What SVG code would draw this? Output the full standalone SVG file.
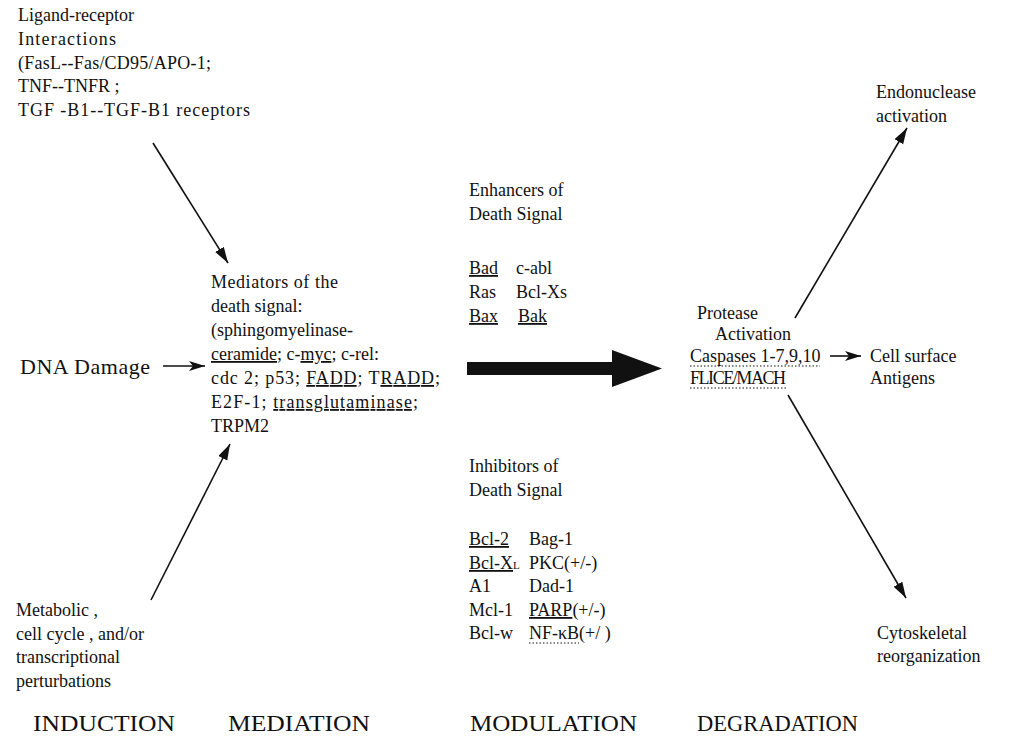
<svg xmlns="http://www.w3.org/2000/svg" width="1024" height="742" viewBox="0 0 1024 742">
  <defs>
    <style>
      text { font-family: "Liberation Serif", "Times New Roman", serif; font-size: 18px; fill: #111; }
      .big { font-size: 22px; }
      .phase { font-size: 24px; }
      .u { text-decoration: underline; }
      .conn { stroke: #111; stroke-width: 1.6; fill: none; }
      .dot { stroke: #111; stroke-width: 1; stroke-dasharray: 1.5 2; }
    </style>
    <marker id="head" markerUnits="userSpaceOnUse" markerWidth="18" markerHeight="12" refX="16" refY="5" orient="auto">
      <path d="M0,0 L16,5 L0,10 z" fill="#111"/>
    </marker>
    <marker id="headShort" markerUnits="userSpaceOnUse" markerWidth="18" markerHeight="12" refX="16" refY="5" orient="auto">
      <path d="M0,0 L16,5 L0,10 L4,5 z" fill="#111"/>
    </marker>
  </defs>
  <rect width="1024" height="742" fill="#fff"/>

  <!-- connectors -->
  <g id="connectors">
    <line class="conn" x1="153" y1="143" x2="228" y2="263" marker-end="url(#head)"/>
    <line class="conn" x1="163" y1="366" x2="205" y2="366" stroke-width="2.2" marker-end="url(#headShort)"/>
    <line class="conn" x1="151" y1="600" x2="230" y2="444" marker-end="url(#head)"/>
    <polygon points="467,362 612,362 612,350 662,368.5 612,387 612,375 467,375" fill="#111"/>
    <line class="conn" x1="795" y1="318" x2="907" y2="128" marker-end="url(#head)"/>
    <line class="conn" x1="830" y1="356" x2="861" y2="356" stroke-width="2.2" marker-end="url(#headShort)"/>
    <line class="conn" x1="788" y1="395" x2="906" y2="598" marker-end="url(#head)"/>
  </g>

  <!-- induction sources -->
  <g id="ligand">
    <text x="18" y="21">Ligand-receptor</text>
    <text x="18" y="45" textLength="98">Interactions</text>
    <text x="18" y="69" textLength="193">(FasL--Fas/CD95/APO-1;</text>
    <text x="18" y="92">TNF--TNFR ;</text>
    <text x="18" y="116" textLength="232">TGF -B1--TGF-B1 receptors</text>
  </g>
  <g id="dna">
    <text class="big" x="20" y="374" textLength="130">DNA Damage</text>
  </g>
  <g id="metabolic">
    <text x="16" y="616">Metabolic ,</text>
    <text x="16" y="640">cell cycle , and/or</text>
    <text x="16" y="663">transcriptional</text>
    <text x="16" y="687">perturbations</text>
  </g>

  <!-- mediation -->
  <g id="mediators">
    <text x="211" y="288" textLength="127">Mediators of the</text>
    <text x="211" y="312">death signal:</text>
    <text x="211" y="336">(sphingomyelinase-</text>
    <text x="211" y="360"><tspan class="u">ceramide</tspan>; c-<tspan class="u">myc</tspan>; c-rel:</text>
    <text x="211" y="384" textLength="229">cdc 2; p53; <tspan class="u">FADD</tspan>; T<tspan class="u">RADD</tspan>;</text>
    <text x="211" y="408" textLength="207">E2F-1; <tspan class="u">transglutaminase</tspan>;</text>
    <text x="211" y="432">TRPM2</text>
  </g>

  <!-- modulation -->
  <g id="enhancers">
    <text x="469" y="196">Enhancers of</text>
    <text x="469" y="220">Death Signal</text>
    <text x="469" y="274"><tspan class="u">Bad</tspan></text>
    <text x="516" y="274">c-abl</text>
    <text x="469" y="298">Ras</text>
    <text x="516" y="298">Bcl-Xs</text>
    <text x="469" y="322"><tspan class="u">Bax</tspan></text>
    <text x="518" y="322"><tspan class="u">Bak</tspan></text>
  </g>
  <g id="inhibitors">
    <text x="469" y="472">Inhibitors of</text>
    <text x="469" y="496">Death Signal</text>
    <text x="469" y="545"><tspan class="u">Bcl-2</tspan></text>
    <text x="529" y="545">Bag-1</text>
    <text x="469" y="569"><tspan class="u">Bcl-X</tspan><tspan font-size="11">L</tspan></text>
    <text x="529" y="569">PKC(+/-)</text>
    <text x="469" y="592">A1</text>
    <text x="529" y="592">Dad-1</text>
    <text x="469" y="616">Mcl-1</text>
    <text x="529" y="616"><tspan class="u">PARP</tspan>(+/-)</text>
    <text x="469" y="639">Bcl-w</text>
    <text x="529" y="639">NF-κB(+/ )</text>
    <line class="dot" x1="529" y1="643" x2="579" y2="643"/>
  </g>

  <!-- degradation -->
  <g id="protease">
    <text x="697" y="319">Protease</text>
    <text x="715" y="340">Activation</text>
    <text x="690" y="362">Caspases 1-7,9,10</text>
    <line class="dot" x1="690" y1="366" x2="820" y2="366"/>
    <text x="690" y="384" textLength="96">FLICE/MACH</text>
    <line class="dot" x1="690" y1="388" x2="786" y2="388"/>
  </g>
  <g id="endonuclease">
    <text x="876" y="98">Endonuclease</text>
    <text x="876" y="122">activation</text>
  </g>
  <g id="antigens">
    <text x="870" y="362">Cell surface</text>
    <text x="870" y="384">Antigens</text>
  </g>
  <g id="cytoskeletal">
    <text x="877" y="639">Cytoskeletal</text>
    <text x="877" y="662">reorganization</text>
  </g>

  <!-- phase labels -->
  <g id="phases">
    <text class="phase" x="33" y="731" textLength="142" lengthAdjust="spacingAndGlyphs">INDUCTION</text>
    <text class="phase" x="228" y="731" textLength="142" lengthAdjust="spacingAndGlyphs">MEDIATION</text>
    <text class="phase" x="470" y="731" textLength="167" lengthAdjust="spacingAndGlyphs">MODULATION</text>
    <text class="phase" x="697" y="731" textLength="161" lengthAdjust="spacingAndGlyphs">DEGRADATION</text>
  </g>
</svg>
